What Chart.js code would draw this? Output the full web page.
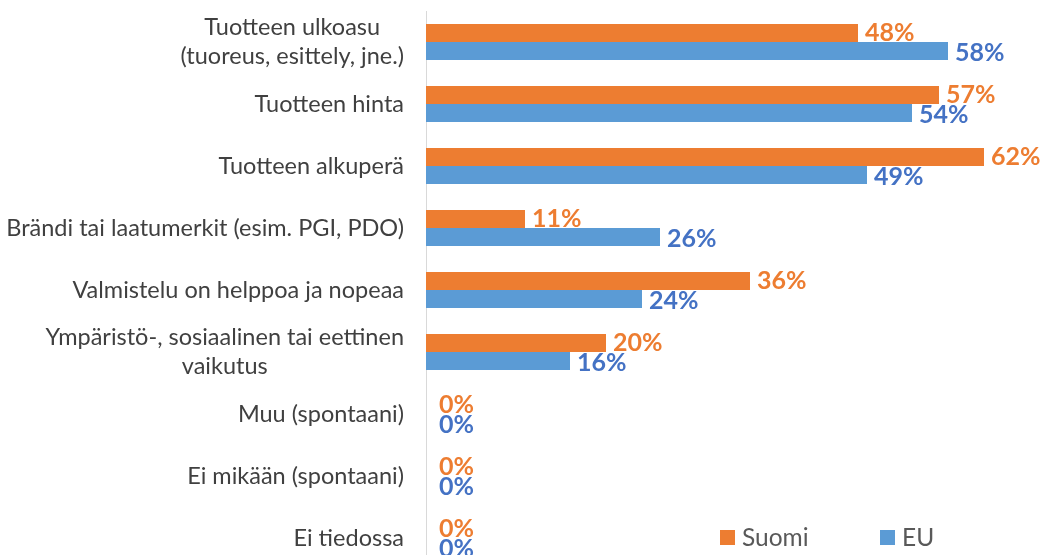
<!DOCTYPE html>
<html><head><meta charset="utf-8">
<script src="https://cdn.jsdelivr.net/npm/chart.js@4.4.0/dist/chart.umd.min.js"></script>
<style>
html,body{margin:0;padding:0;overflow:hidden;background:#fff;width:1051px;height:555px;}
#wrap{position:absolute;left:0;top:0;width:1056px;height:569px;}
.lg{position:absolute;top:523px;font-family:Lato,sans-serif;font-size:24.5px;color:#595959;line-height:28px;white-space:nowrap;}
.sq{position:absolute;width:15px;height:15px;top:7px;left:0;}
.lt{position:absolute;left:22px;top:0;}
</style>
</head><body>
<div id="wrap"><canvas id="c" width="1056" height="569"></canvas></div>
<div class="lg" style="left:720px"><span class="sq" style="background:#ED7D31"></span><span class="lt">Suomi</span></div>
<div class="lg" style="left:880px"><span class="sq" style="background:#5B9BD5"></span><span class="lt">EU</span></div>
<script>
const categories = [
  ["Tuotteen ulkoasu", "(tuoreus, esittely, jne.)"],
  "Tuotteen hinta",
  "Tuotteen alkuperä",
  "Brändi tai laatumerkit (esim. PGI, PDO)",
  "Valmistelu on helppoa ja nopeaa",
  ["Ympäristö-, sosiaalinen tai eettinen", "vaikutus"],
  "Muu (spontaani)",
  "Ei mikään (spontaani)",
  "Ei tiedossa"
];
const seriesNames = ["Suomi", "EU"];
const suomi = [48, 57, 62, 11, 36, 20, 0, 0, 0];
const eu = [58, 54, 49, 26, 24, 16, 0, 0, 0];

const barColors = ["#ED7D31", "#5B9BD5"];
const labelColors = ["#ED7D31", "#4472C4"];

const yLabels = {
  id: 'yLabels',
  afterDraw(chart) {
    const s = chart.scales.y, ctx = chart.ctx;
    ctx.save();
    ctx.font = '23.5px Lato';
    ctx.fillStyle = '#404040';
    ctx.textBaseline = 'middle';
    ctx.textAlign = 'center';
    const lh = 29;
    categories.forEach((lab, i) => {
      const y = s.getPixelForTick(i);
      const lines = Array.isArray(lab) ? lab : [lab];
      const w = Math.max(...lines.map(l => ctx.measureText(l).width));
      const cx = s.right - 22 - w / 2;
      lines.forEach((l, j) => ctx.fillText(l, cx, y + (j - (lines.length - 1) / 2) * lh));
    });
    ctx.restore();
  }
};

const valueLabels = {
  id: 'valueLabels',
  afterDatasetsDraw(chart) {
    const ctx = chart.ctx;
    ctx.save();
    ctx.font = 'bold 25px Lato';
    ctx.textBaseline = 'middle';
    ctx.textAlign = 'left';
    chart.data.datasets.forEach((ds, di) => {
      const meta = chart.getDatasetMeta(di);
      ctx.fillStyle = labelColors[di];
      meta.data.forEach((bar, i) => {
        const v = ds.data[i];
        const x = v === 0 ? bar.x + 13 : bar.x + 7;
        const y = bar.y + (di === 1 ? 2 : 0);
        ctx.fillText(v + '%', x, y);
      });
    });
    ctx.restore();
  }
};

new Chart(document.getElementById('c'), {
  type: 'bar',
  data: {
    labels: categories,
    datasets: [
      { label: seriesNames[0], data: suomi, backgroundColor: barColors[0] },
      { label: seriesNames[1], data: eu, backgroundColor: barColors[1] }
    ]
  },
  options: {
    indexAxis: 'y',
    responsive: false,
    animation: false,
    layout: { padding: { top: 11, bottom: 0, left: 0, right: 0 } },
    categoryPercentage: 0.58,
    barPercentage: 1,
    plugins: { legend: { display: false }, tooltip: { enabled: false } },
    scales: {
      x: { min: 0, max: 70, display: false },
      y: {
        grid: { display: true, color: 'rgba(0,0,0,0)', drawTicks: false },
        border: { display: true, color: '#d9d9d9', width: 1 },
        ticks: { display: false },
        afterFit(s) { s.width = 426; }
      }
    }
  },
  plugins: [yLabels, valueLabels]
});
</script>
</body></html>
